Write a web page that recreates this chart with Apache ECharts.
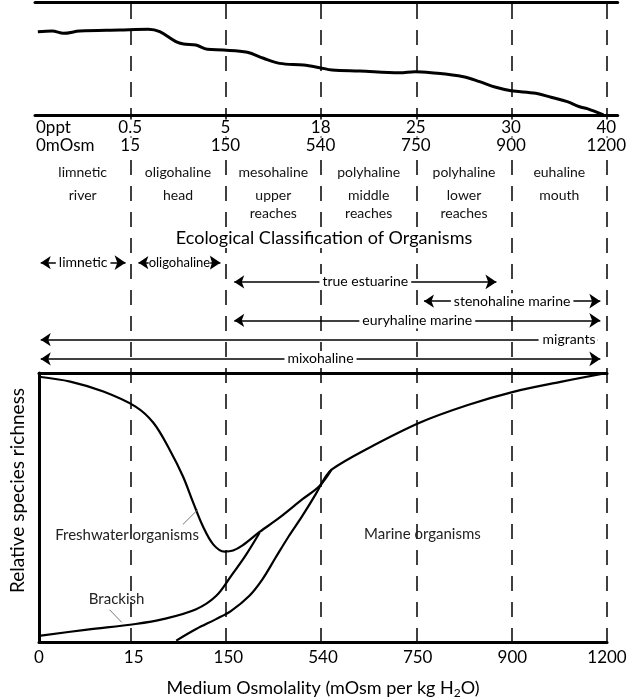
<!DOCTYPE html>
<html><head><meta charset="utf-8">
<script src="https://cdn.jsdelivr.net/npm/echarts@6/dist/echarts.min.js"></script>
<style>html,body{margin:0;padding:0;background:#fff}#c{width:630px;height:700px}</style>
</head><body><div id="c"></div>
<script>
// ---- tick labels ----
const pptLabels = ['0ppt', '0.5', '5', '18', '25', '30', '40'];
const osmTopLabels = ['0mOsm', '15', '150', '540', '750', '900', '1200'];
const osmAxisLabels = ['0', '15', '150', '540', '750', '900', '1200'];
// ---- zones ----
const zoneNames = ['limnetic', 'oligohaline', 'mesohaline', 'polyhaline', 'polyhaline', 'euhaline'];
const zoneParts = ['river', 'head', 'upper\nreaches', 'middle\nreaches', 'lower\nreaches', 'mouth'];
// ---- top profile (x in osmolality class index) ----
const profileX = [0.03, 0.18, 0.30, 0.47, 0.89, 1.19, 1.31, 1.48, 1.56, 1.69, 1.81, 1.98, 2.23, 2.40, 2.57, 2.82, 2.99, 3.12, 3.41, 3.83, 3.99, 4.16, 4.50, 4.67, 4.84, 5.00, 5.26, 5.42, 5.59, 5.72, 5.80, 5.97];
const profileY = [73.7, 74.3, 72.3, 74.3, 75.2, 75.8, 73.7, 64.9, 62.8, 61.9, 58.1, 57.5, 55.5, 50.2, 45.7, 44.2, 41.9, 39.8, 38.9, 37.4, 38.3, 37.4, 33.9, 29.5, 24.5, 21.5, 19.2, 15.7, 11.8, 7.3, 5.6, 0];
// ---- species richness curves ----
const freshX = [0, 0.33, 0.68, 1.02, 1.21, 1.38, 1.52, 1.63, 1.73, 1.84, 1.96, 2.05, 2.15, 2.33, 2.54, 2.78, 2.96, 3.09];
const freshY = [98.6, 96.8, 93.1, 87.5, 81.4, 71.5, 61.6, 51.7, 43.1, 36.3, 33.6, 34.0, 35.9, 40.9, 46.2, 53.0, 57.9, 64.1];
const brackX = [0, 0.51, 1.02, 1.31, 1.66, 1.87, 2.03, 2.19, 2.33];
const brackY = [2.3, 4.6, 6.7, 8.5, 12.2, 17.1, 24.6, 32.6, 40.6];
const marineX = [1.45, 1.66, 1.87, 2.03, 2.22, 2.36, 2.50, 2.64, 2.78, 2.92, 3.02, 3.09, 3.45, 4.02, 4.53, 5.01, 5.51, 6.0];
const marineY = [0.5, 4.8, 8.5, 11.6, 17.1, 23.3, 31.4, 39.4, 46.8, 54.8, 61.0, 64.1, 71.5, 81.5, 88.1, 93.0, 96.7, 100];
// ---- ecological classification ranges ----
const classNames = ['limnetic', 'oligohaline', 'true estuarine', 'stenohaline marine', 'euryhaline marine', 'mixohaline'];
const classFrom = [0.06, 1.085, 2.09, 4.08, 2.09, 0.06];
const classTo = [0.95, 1.945, 4.84, 5.93, 5.93, 5.93];
const classRow = [0, 0, 1, 2, 3, 5];
const migrantFrom = 0.06, migrantTo = 5.90, migrantRow = 4;

const FONT = 'Lato';
const zip = (xs, ys) => xs.map((x, i) => [x, ys[i]]);

const chart = echarts.init(document.getElementById('c'), null, {renderer: 'canvas'});
const hide = {show: false};
const noteLabel = {show: true, position: 'inside', fontSize: 15, color: '#222', fontFamily: FONT, formatter: '{b}'};
const leader = {color: '#777', width: 1, type: 'solid'};
const option = {
  animation: false,
  textStyle: {fontFamily: FONT, color: '#000'},
  grid: [
    {left: 35, right: 23, top: 4, bottom: 57},
    {left: 35, right: 12, top: 2, height: 113},
    {left: 35, right: 23, top: 100, height: 58},
    {left: 35, right: 23, top: 253, height: 115.5},
    {left: 35, right: 23, top: 373, bottom: 57}
  ],
  xAxis: [
    {gridIndex: 0, type: 'value', min: 0, max: 6, interval: 1, z: 0,
     axisLine: hide, axisTick: hide, axisLabel: hide,
     splitLine: {show: true, showMinLine: false, lineStyle: {type: [15, 11], color: '#111', width: 1.6}}},
    {gridIndex: 1, type: 'value', min: 0, max: 6.12, interval: 1, position: 'bottom', z: 5,
     axisLine: {onZero: false, lineStyle: {color: '#000', width: 3}}, axisTick: hide, splitLine: hide,
     axisLabel: {margin: 4, alignMinLabel: 'left', showMaxLabel: true,
       formatter: v => Number.isInteger(v) && v <= 6 ? `{a|${pptLabels[v]}}\n{a|${osmTopLabels[v]}}` : '',
       rich: {a: {fontSize: 17, lineHeight: 18, fontFamily: FONT, color: '#000', backgroundColor: '#fff', padding: [0, 1]}}}},
    {gridIndex: 1, type: 'value', min: 0, max: 6.12, position: 'top',
     axisLine: {onZero: false, lineStyle: {color: '#000', width: 3}}, axisTick: hide, axisLabel: hide, splitLine: hide},
    {gridIndex: 2, type: 'category', data: zoneNames, position: 'bottom', z: 5,
     axisLine: hide, axisTick: hide, splitLine: hide,
     axisLabel: {interval: 0, margin: 0,
       formatter: (v, i) => `{n|${v}}\n` + zoneParts[i].split('\n').map(s => `{p|${s}}`).join('\n'),
       rich: {n: {fontSize: 14, lineHeight: 28, fontFamily: FONT, color: '#111'},
              p: {fontSize: 14, lineHeight: 18, fontFamily: FONT, color: '#111'}}}},
    {gridIndex: 3, type: 'value', min: 0, max: 6, show: false},
    {gridIndex: 4, type: 'value', min: 0, max: 6, interval: 1, position: 'bottom', z: 5,
     axisLine: {onZero: false, lineStyle: {color: '#000', width: 3}}, axisTick: hide, splitLine: hide,
     axisLabel: {margin: 7, fontSize: 17, color: '#000', formatter: v => osmAxisLabels[v]},
     name: 'Medium Osmolality (mOsm per kg H{s|2}O)',
     nameLocation: 'middle', nameGap: 35,
     nameTextStyle: {fontSize: 18, color: '#000', lineHeight: 22,
       rich: {s: {fontSize: 12, lineHeight: 10, verticalAlign: 'bottom', color: '#000'}}}},
    {gridIndex: 4, type: 'value', min: 0, max: 6, position: 'top',
     axisLine: {onZero: false, lineStyle: {color: '#000', width: 3}}, axisTick: hide, axisLabel: hide, splitLine: hide}
  ],
  yAxis: [
    {gridIndex: 0, type: 'value', show: false},
    {gridIndex: 1, type: 'value', min: 0, max: 100, show: false},
    {gridIndex: 2, type: 'value', show: false},
    {gridIndex: 3, type: 'value', min: -0.5, max: 5.5, inverse: true, show: false},
    {gridIndex: 4, type: 'value', min: 0, max: 100,
     axisLine: {show: true, onZero: false, lineStyle: {color: '#000', width: 3}},
     axisTick: hide, axisLabel: hide, splitLine: hide,
     name: 'Relative species richness', nameLocation: 'middle', nameGap: 12,
     nameTextStyle: {fontSize: 19, color: '#000', padding: [0, 0, 0, 34]}}
  ],
  graphic: [{
    type: 'text', x: 324, y: 238, z: 100,
    style: {text: 'Ecological Classification of Organisms', fontSize: 18, fontFamily: FONT, fill: '#000',
            align: 'center', verticalAlign: 'middle', backgroundColor: '#fff', padding: [1, 3]}
  }],
  series: [
    {type: 'line', xAxisIndex: 1, yAxisIndex: 1, data: zip(profileX, profileY), smooth: 0.35,
     symbol: 'none', lineStyle: {color: '#000', width: 3}},
    {type: 'line', name: 'Freshwater', xAxisIndex: 5, yAxisIndex: 4, data: zip(freshX, freshY), smooth: 0.35,
     symbol: 'none', lineStyle: {color: '#000', width: 2.2},
     markPoint: {symbol: 'circle', symbolSize: 0, silent: true, label: noteLabel,
       data: [{name: 'Freshwater organisms', coord: [0.93, 39.6]}]},
     markLine: {symbol: ['none', 'none'], silent: true, label: hide, lineStyle: leader,
       data: [[{coord: [1.52, 43.7]}, {coord: [1.68, 49.3]}]]}},
    {type: 'line', name: 'Brackish', xAxisIndex: 5, yAxisIndex: 4, data: zip(brackX, brackY), smooth: 0.35,
     symbol: 'none', lineStyle: {color: '#000', width: 2.2},
     markPoint: {symbol: 'circle', symbolSize: 0, silent: true, label: noteLabel,
       data: [{name: 'Brackish', coord: [0.82, 15.9]}]},
     markLine: {symbol: ['none', 'none'], silent: true, label: hide, lineStyle: leader,
       data: [[{coord: [0.745, 12]}, {coord: [0.874, 7.3]}]]}},
    {type: 'line', name: 'Marine', xAxisIndex: 5, yAxisIndex: 4, data: zip(marineX, marineY), smooth: 0.35,
     symbol: 'none', lineStyle: {color: '#000', width: 2.2},
     markPoint: {symbol: 'circle', symbolSize: 0, silent: true, label: noteLabel,
       data: [{name: 'Marine organisms', coord: [4.05, 40]}]}},
    {type: 'lines', coordinateSystem: 'cartesian2d', xAxisIndex: 4, yAxisIndex: 3, z: 6, clip: false,
     symbol: ['arrow', 'arrow'], symbolSize: [10, 11],
     lineStyle: {color: '#000', width: 1.7, opacity: 1},
     label: {show: true, position: 'insideMiddle', formatter: '{b}', fontSize: 14, color: '#000', fontFamily: FONT,
             backgroundColor: '#fff', padding: [1, 3]},
     data: classNames.map((n, i) => ({name: n, coords: [[classFrom[i], classRow[i]], [classTo[i], classRow[i]]],
       label: n === 'oligohaline' ? {fontSize: 13, padding: [1, 0]} : undefined}))},
    {type: 'lines', coordinateSystem: 'cartesian2d', xAxisIndex: 4, yAxisIndex: 3, z: 6, clip: false,
     symbol: ['arrow', 'none'], symbolSize: [10, 11],
     lineStyle: {color: '#000', width: 1.7, opacity: 1},
     label: {show: true, position: 'insideEnd', distance: 0, formatter: '{b}', fontSize: 14, color: '#000', fontFamily: FONT,
             backgroundColor: '#fff', padding: [1, 2, 1, 4]},
     data: [{name: 'migrants', coords: [[migrantFrom, migrantRow], [migrantTo, migrantRow]]}]}
  ]
};
chart.setOption(option);
</script></body></html>
